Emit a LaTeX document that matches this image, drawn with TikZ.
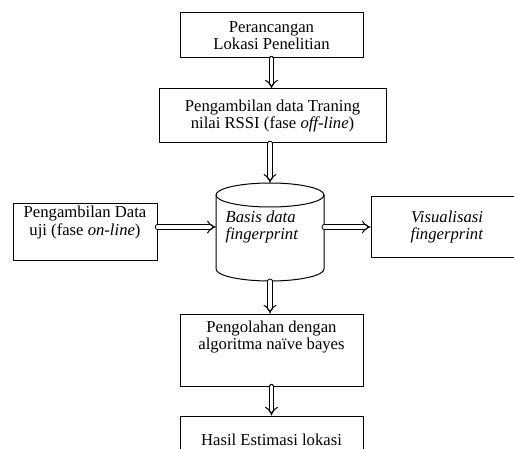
\documentclass[tikz,border=0pt]{standalone}
\usepackage{fontspec}
\setmainfont{Liberation Serif}
\usetikzlibrary{arrows.meta}
\usetikzlibrary{positioning}

\newcommand{\px}{0.75pt}

\begin{document}
\begin{tikzpicture}[
				x=0.75pt, y=-0.75pt,
				line cap=round,
				line join=round,
				every node/.style={font=\fontsize{12.5}{13}\selectfont, align=center},
				kotak/.style={draw, line width=0.75pt, inner sep=0pt},
				teks/.style={inner sep=0pt},
				panah/.style={double, double distance=2.6pt, line width=0.75pt, -{Implies}}
				]
				\useasboundingbox (0,0) rectangle (514,449);
				\clip (0,0) rectangle (514,449);
				
				% Kotak proses
				\node[kotak, minimum width=183*\px, minimum height=45*\px] (lokasi) at (271.5,35.5) {Perancangan\\Lokasi Penelitian};
				\node[kotak, minimum width=227*\px, minimum height=54*\px] (latih) at (272.5,116) {Pengambilan data Traning\\nilai RSSI (fase \emph{off-line})};
				\node[kotak, minimum width=144*\px, minimum height=56*\px] (uji) at (85,232) {};
				\node[teks, below=2pt of uji.north] (ujiteks) {Pengambilan Data\\uji (fase \emph{on-line})};
				\node[kotak, minimum width=152*\px, minimum height=60*\px] (visual) at (447,227) {\emph{Visualisasi}\\\emph{fingerprint}};
				\node[kotak, minimum width=183*\px, minimum height=72*\px] (olah) at (271.5,350) {};
				\node[teks, below=5.5pt of olah.north] (olahteks) {Pengolahan dengan\\algoritma naïve bayes};
				\node[kotak, minimum width=183*\px, minimum height=48*\px] (hasil) at (271.5,440) {Hasil Estimasi lokasi};
				
				% Tabung basis data
				\draw[line width=0.75pt] (270,195) ellipse [x radius=54, y radius=12];
				\draw[line width=0.75pt] (216,195) -- (216,269) arc[start angle=180, end angle=0, x radius=54, y radius=12] -- (324,195);
				\node[inner sep=0pt, minimum width=108*\px, minimum height=98*\px] (db) at (270,232) {};
				\node[teks, align=left] (basis) at (262,227) {\emph{Basis data}\\\emph{fingerprint}};
				
				% Panah
				\draw[panah] (lokasi.south) -- (lokasi.south |- latih.north);
				\draw[panah] (latih.south -| db.north) -- (db.north);
				\draw[panah] (uji.east |- basis.west) -- (db.west |- basis.west);
				\draw[panah] (db.east |- basis.west) -- (visual.west |- basis.west);
				\draw[panah] (db.south) -- (db.south |- olah.north);
				\draw[panah] (olah.south) -- (hasil.north);
			\end{tikzpicture}
\end{document}
